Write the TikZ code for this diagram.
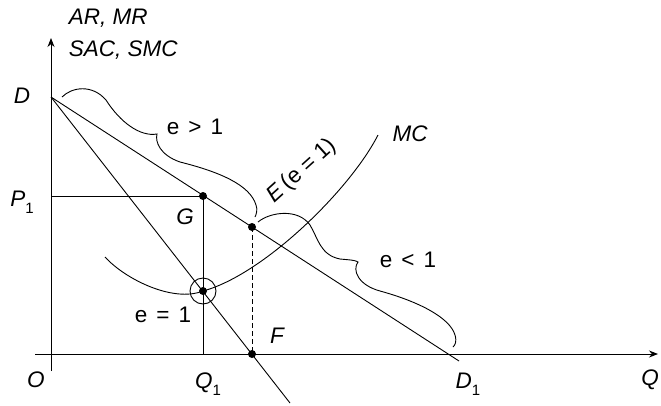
\documentclass[tikz,border=0pt]{standalone}
\usepackage{fontspec}
\setmainfont{Liberation Sans}
\usetikzlibrary{arrows.meta}
\newcommand{\lowsub}[1]{\raisebox{-0.6ex}{\fontsize{15}{15}\selectfont #1}}
\newcommand{\gap}{\hspace{0.4em}}

\tikzset{
  axisline/.style={line width=0.9pt,-{Stealth[length=9pt,width=7pt]}},
  curveline/.style={line width=0.9pt},
  dotpt/.style={circle,fill=black,inner sep=0pt,minimum size=8pt},
  lbl/.style={inner sep=0.75pt,font=\fontsize{22.5}{26}\selectfont},
}

\begin{document}
\begin{tikzpicture}[x=1pt,y=1pt,yscale=-1,xscale=1]
\useasboundingbox (0,0) rectangle (661,405);

% Points
\coordinate (O) at (51,354);
\coordinate (Ytop) at (51,38);
\coordinate (Ybot) at (51,371);
\coordinate (Xleft) at (35,354);
\coordinate (Xright) at (658,354);
\coordinate (D) at (51,97);
\coordinate (Dend) at (459,361);
\coordinate (MRend) at (290,403);
\coordinate (P) at (51,196);
\coordinate (Q) at (203,354);
\coordinate (Fp) at (252,354);

% Axes
\draw [axisline] (Ybot) -- (Ytop);
\draw [axisline] (Xleft) -- (Xright);

% AR and MR
\draw [curveline] (D) -- (Dend);
\draw [curveline] (D) -- (MRend);

% Dots
\node (G) [dotpt] at (203,196) {};
\node (E) [dotpt] at (252,227) {};
\node (K) [dotpt] at (203,291) {};
\node (F) [dotpt] at (Fp) {};
\node (ring) [circle,draw,line width=0.9pt,minimum size=26pt,inner sep=0pt] at (K) {};

% P1 -- G -- Q1 and E -- F
\draw [curveline] (P) -- (G.center) -- (Q);
\draw [curveline,dashed,dash pattern=on 5pt off 3pt] (E.center) -- (F.center);

% MC curve
\draw [curveline] (105,257) .. controls (125,279) and (173,303) .. (K.center)
  .. controls (263,275) and (350,190) .. (378,135);

% Braces
\draw [curveline] (62,97) .. controls (72,87) and (92,84) .. (106,100)
  .. controls (120,122) and (140,137) .. (157,134)
  .. controls (155,142) and (160,155) .. (180,162)
  .. controls (220,172) and (250,185) .. (256,205)
  .. controls (258,210) and (256,215) .. (255,217);
\draw [curveline] (258,222) .. controls (270,212) and (298,208) .. (310,225)
  .. controls (318,238) and (320,255) .. (340,259)
  .. controls (350,260) and (355,260) .. (358,262)
  .. controls (352,270) and (358,285) .. (380,291)
  .. controls (420,302) and (450,318) .. (455,335)
  .. controls (457,342) and (455,345) .. (453,347);

% Text Node
\draw (68,18) node (tAR) [anchor=west][lbl] {\itshape AR, MR};
\draw (68,50) node (tSAC) [anchor=west][lbl] {\itshape SAC, SMC};
\draw (22,96) node (tD) [lbl] {\itshape D};
\draw (22,202) node (tP) [lbl] {\itshape P\lowsub{\upshape 1}};
\draw (36,380) node (tO) [lbl] {\itshape O};
\draw (208,384) node (tQ1) [lbl] {\itshape Q\lowsub{\upshape 1}};
\draw (468,384) node (tD1) [lbl] {\itshape D\lowsub{\upshape 1}};
\draw (650,380) node (tQ) [lbl] {\itshape Q};
\draw (185,217) node (tG) [lbl] {\itshape G};
\draw (277,336) node (tF) [lbl] {\itshape F};
\draw (410,134) node (tMC) [lbl] {\itshape MC};
\draw (195,127) node (tgt) [lbl] {e\gap>\gap1};
\draw (408,260) node (tlt) [lbl] {e\gap<\gap1};
\draw (163,315) node (teq) [lbl] {e\gap=\gap1};
\draw (302,171) node (tE) [lbl,rotate=42] {\textit{E}\,(e = 1)};

\end{tikzpicture}
\end{document}
